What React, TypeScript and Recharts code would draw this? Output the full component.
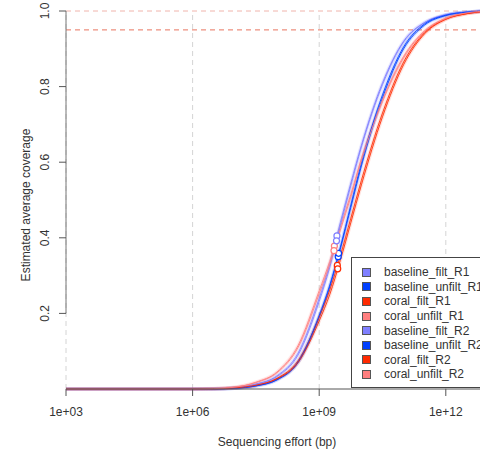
import {
  ComposedChart,
  Line,
  Scatter,
  XAxis,
  YAxis,
  ReferenceLine,
  Label,
} from "recharts";

/* ─── Data ─── */

const EFFORT = [
  1e3, 1e6, 3.16e6, 1e7, 3.16e7, 1e8, 3.16e8, 1e9, 1.78e9, 3.16e9, 5.62e9, 1e10,
  3.16e10, 1e11, 3.16e11, 1e12, 3.16e12, 1e13,
];

const BASELINE_FILT_R1 = [0, 0, 0.0005, 0.003, 0.013, 0.035, 0.095, 0.24, 0.33, 0.44, 0.545, 0.645, 0.81, 0.92, 0.97, 0.99, 0.997, 1];
const BASELINE_UNFILT_R1 = [0, 0, 0.0003, 0.002, 0.008, 0.024, 0.07, 0.19, 0.27, 0.37, 0.48, 0.59, 0.77, 0.9, 0.963, 0.988, 0.997, 1];
const CORAL_FILT_R1 = [0, 0, 0.0004, 0.003, 0.01, 0.028, 0.075, 0.19, 0.262, 0.352, 0.452, 0.552, 0.73, 0.865, 0.943, 0.979, 0.993, 1];
const CORAL_UNFILT_R1 = [0, 0, 0.001, 0.005, 0.018, 0.045, 0.115, 0.26, 0.338, 0.428, 0.515, 0.61, 0.765, 0.88, 0.948, 0.981, 0.995, 1];
const BASELINE_FILT_R2 = [0, 0, 0.0004, 0.0028, 0.012, 0.033, 0.09, 0.232, 0.322, 0.432, 0.538, 0.64, 0.805, 0.918, 0.969, 0.99, 0.997, 1];
const BASELINE_UNFILT_R2 = [0, 0, 0.0003, 0.002, 0.0085, 0.025, 0.072, 0.195, 0.275, 0.375, 0.487, 0.598, 0.778, 0.905, 0.966, 0.989, 0.997, 1];
const CORAL_FILT_R2 = [0, 0, 0.0004, 0.003, 0.01, 0.027, 0.07, 0.18, 0.25, 0.34, 0.44, 0.54, 0.72, 0.858, 0.94, 0.978, 0.993, 1];
const CORAL_UNFILT_R2 = [0, 0, 0.0009, 0.0048, 0.017, 0.043, 0.11, 0.252, 0.33, 0.42, 0.508, 0.604, 0.76, 0.876, 0.946, 0.98, 0.995, 1];

const SERIES_NAMES = [
  "baseline_filt_R1",
  "baseline_unfilt_R1",
  "coral_filt_R1",
  "coral_unfilt_R1",
  "baseline_filt_R2",
  "baseline_unfilt_R2",
  "coral_filt_R2",
  "coral_unfilt_R2",
];

const SERIES_VALUES = [
  BASELINE_FILT_R1,
  BASELINE_UNFILT_R1,
  CORAL_FILT_R1,
  CORAL_UNFILT_R1,
  BASELINE_FILT_R2,
  BASELINE_UNFILT_R2,
  CORAL_FILT_R2,
  CORAL_UNFILT_R2,
];

// actual sequencing effort of each dataset (the open circles)
const DOT_EFFORT = [2.63e9, 2.82e9, 2.69e9, 2.29e9, 2.57e9, 2.88e9, 2.75e9, 2.24e9];
const DOT_COVERAGE = [0.405, 0.35, 0.327, 0.378, 0.392, 0.359, 0.318, 0.366];

const X_TICKS = [1e3, 1e6, 1e9, 1e12];
const Y_TICKS = [0.2, 0.4, 0.6, 0.8, 1.0];

const COLORS = [
  "#7f7fff",
  "#0040ff",
  "#ff2a00",
  "#ff7f7f",
  "#7f7fff",
  "#0040ff",
  "#ff2a00",
  "#ff7f7f",
];

const FONT = '"Liberation Sans", Arial, Helvetica, sans-serif';

const chartData = EFFORT.map((effort, i) => {
  const row: Record<string, number> = { effort };
  SERIES_NAMES.forEach((name, s) => {
    row[name] = SERIES_VALUES[s][i];
  });
  return row;
});

const formatExp = (v: number) => {
  const e = Math.round(Math.log10(v));
  return `1e+${String(e).padStart(2, "0")}`;
};

const YTick = ({ y, payload }: any) => (
  <text
    x={49}
    y={y}
    transform={`rotate(-90, 49, ${y})`}
    textAnchor="middle"
    fontSize={12}
    fill="#333"
    fontFamily={FONT}
  >
    {payload.value.toFixed(1)}
  </text>
);

const HollowDot = (color: string) => (props: any) => {
  const { cx, cy } = props;
  if (cx == null || cy == null) return null;
  return <circle cx={cx} cy={cy} r={3} fill="#fff" stroke={color} strokeWidth={1.2} />;
};

export default function App() {
  return (
    <div
      style={{
        position: "absolute",
        left: 0,
        top: 0,
        width: 480,
        height: 451,
        overflow: "hidden",
        background: "#fff",
        fontFamily: FONT,
      }}
    >
      <ComposedChart
        width={500}
        height={451}
        data={chartData}
        margin={{ top: 11, right: 12, left: 0, bottom: 0 }}
      >
        <XAxis
          dataKey="effort"
          type="number"
          scale="log"
          domain={[1e3, 1e13]}
          ticks={X_TICKS}
          tickFormatter={formatExp}
          allowDataOverflow
          height={62}
          tickSize={7}
          tickMargin={11}
          stroke="#555"
          tick={{ fontSize: 12, fill: "#333", fontFamily: FONT }}
        >
          <Label
            value="Sequencing effort (bp)"
            position="insideBottom"
            offset={5}
            style={{ fontSize: 12, fill: "#333", fontFamily: FONT }}
          />
        </XAxis>
        <YAxis
          type="number"
          domain={[0, 1]}
          ticks={Y_TICKS}
          width={66}
          tickSize={7}
          axisLine={false}
          tickLine={{ stroke: "#555" }}
          tick={<YTick />}
        />

        {/* vertical dashed grid */}
        {X_TICKS.map((t) => (
          <ReferenceLine key={t} x={t} stroke="#d4d4d4" strokeDasharray="5 4" />
        ))}
        <ReferenceLine y={1} stroke="#f0b4ac" strokeDasharray="5 4" />
        <ReferenceLine y={0.95} stroke="#e8735f" strokeDasharray="5 4" />
        <ReferenceLine
          segment={[
            { x: 1e3, y: 0.2 },
            { x: 1e3, y: 1 },
          ]}
          stroke="#777"
        />

        {/* confidence bands (ghosted) */}
        {SERIES_NAMES.map((name, s) => (
          <Line
            key={`band-${name}`}
            dataKey={name}
            type="monotone"
            stroke={COLORS[s]}
            strokeOpacity={0.13}
            strokeWidth={3.5}
            dot={false}
            activeDot={false}
            legendType="none"
            isAnimationActive={false}
          />
        ))}
        {/* fitted curves */}
        {SERIES_NAMES.map((name, s) => (
          <Line
            key={name}
            dataKey={name}
            type="monotone"
            stroke={COLORS[s]}
            strokeOpacity={0.85}
            strokeWidth={1}
            dot={false}
            activeDot={false}
            isAnimationActive={false}
          />
        ))}
        {SERIES_NAMES.map((name, s) => (
          <Scatter
            key={`dot-${name}`}
            data={[{ effort: DOT_EFFORT[s], coverage: DOT_COVERAGE[s] }]}
            dataKey="coverage"
            shape={HollowDot(COLORS[s])}
            isAnimationActive={false}
          />
        ))}
      </ComposedChart>

      <svg
        width={40}
        height={451}
        style={{ position: "absolute", left: 0, top: 0 }}
      >
        <text
          x={30}
          y={205}
          transform="rotate(-90, 30, 205)"
          textAnchor="middle"
          fontSize={12}
          fill="#333"
          fontFamily={FONT}
        >
          Estimated average coverage
        </text>
      </svg>

      {/* Legend */}
      <div
        style={{
          position: "absolute",
          left: 351,
          top: 257,
          width: 150,
          height: 131,
          border: "1px solid #444",
          background: "#fff",
          boxSizing: "border-box",
          paddingTop: 7,
        }}
      >
        {SERIES_NAMES.map((name, s) => (
          <div
            key={name}
            style={{
              height: 14.6,
              display: "flex",
              alignItems: "center",
              fontSize: 12,
              color: "#333",
              whiteSpace: "nowrap",
            }}
          >
            <span
              style={{
                display: "inline-block",
                width: 7,
                height: 7,
                marginLeft: 10,
                marginRight: 13,
                background: COLORS[s],
                border: "1px solid #555",
              }}
            />
            {name}
          </div>
        ))}
      </div>
    </div>
  );
}
